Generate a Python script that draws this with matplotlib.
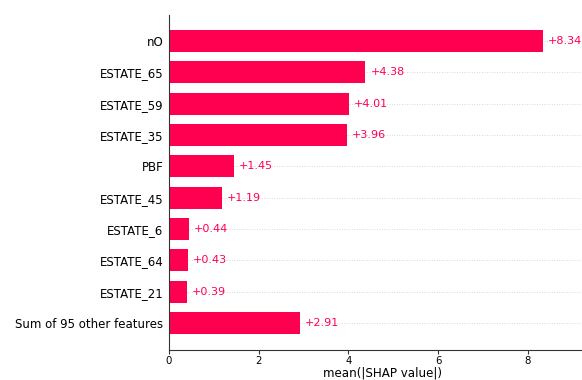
import numpy as np
import matplotlib
matplotlib.use("Agg")
import matplotlib.pyplot as plt
import matplotlib.transforms as mtransforms

# mean(|SHAP|) per feature, top to bottom
features = ["nO", "ESTATE_65", "ESTATE_59", "ESTATE_35", "PBF",
            "ESTATE_45", "ESTATE_6", "ESTATE_64", "ESTATE_21",
            "Sum of 95 other features"]
values = [8.34, 4.38, 4.01, 3.96, 1.45, 1.19, 0.44, 0.43, 0.39, 2.91]
xticks = [0, 2, 4, 6, 8]

red = "#ff0051"

fig = plt.figure(figsize=(5.82, 3.8), dpi=100)
ax = fig.add_axes([0.2904, 0.0789, 0.732, 0.8816])

n = len(features)
y_pos = np.arange(n)[::-1]

for y in y_pos:
    ax.axhline(y, color="#cccccc", lw=0.6, dashes=(1, 2), zorder=-1)

ax.barh(y_pos, values, height=0.7, color=red, zorder=2)

# value labels a few points right of each bar end
offset = mtransforms.offset_copy(ax.transData, fig=fig, x=3.5, y=0, units="points")
for y, v in zip(y_pos, values):
    ax.text(v, y, f"+{v:.2f}", transform=offset, ha="left", va="center",
            color=red, fontsize=8.0)

ax.set_yticks(y_pos)
ax.set_yticklabels(features, fontsize=8.5)
ax.set_xticks(xticks)
ax.set_xticklabels([str(t) for t in xticks], fontsize=7.3)
ax.set_xlim(0, 9.5)
ax.set_ylim(-0.86, 9.83)
ax.set_xlabel("mean(|SHAP value|)", fontsize=8.6, labelpad=0)

ax.spines["top"].set_visible(False)
ax.spines["right"].set_visible(False)
ax.spines["left"].set_color("#333333")
ax.spines["bottom"].set_color("#333333")
ax.tick_params(axis="y", length=0, pad=4)
ax.tick_params(axis="x", length=3, width=0.8, color="#333333", pad=1.5)

fig.savefig("out.png", dpi=100)
